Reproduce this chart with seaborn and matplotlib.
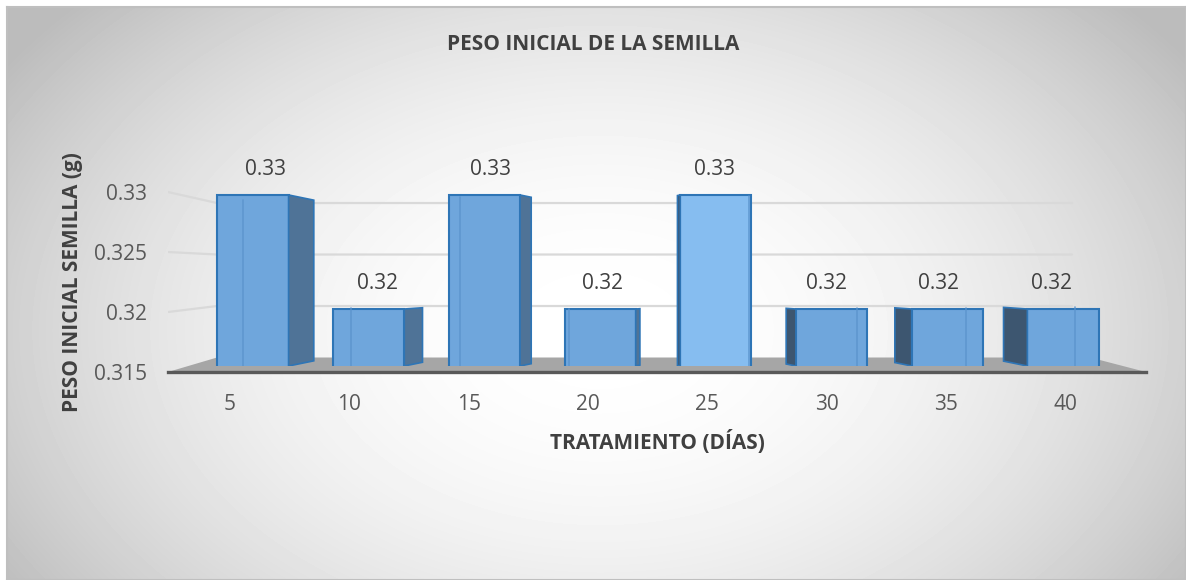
import numpy as np
import matplotlib
matplotlib.use('Agg')
import matplotlib.pyplot as plt
import seaborn as sns
from matplotlib.patches import Polygon

# datos
dias = ['5', '10', '15', '20', '25', '30', '35', '40']
peso = [0.33, 0.32, 0.33, 0.32, 0.33, 0.32, 0.32, 0.32]
y_ticks = [0.315, 0.32, 0.325, 0.33]
bar_colors = ['#6fa6dc', '#6fa6dc', '#6fa6dc', '#6fa6dc', '#86bdf0', '#6fa6dc', '#6fa6dc', '#6fa6dc']

W, H = 1186, 580


def box(x0, y0, x1, y1):
    # pixel box -> figure fraction
    return [x0 / W, 1 - y1 / H, (x1 - x0) / W, (y1 - y0) / H]


sns.set_theme(style='white')
plt.rcParams['font.family'] = ['Open Sans', 'DejaVu Sans']

fig = plt.figure(figsize=(W / 100, H / 100), dpi=100)

## background with radial gradient
bg = fig.add_axes(box(7, 7, W, H), zorder=0)
yy, xx = np.mgrid[7:H, 7:W]
r = np.hypot((xx - 600) / 620, (yy - 330) / 420)
shade = 1 - 0.2 * np.minimum(r, 1.15) ** 2
bg.imshow(shade, cmap='gray', vmin=0, vmax=1, aspect='auto', interpolation='bilinear')
bg.set_xticks([])
bg.set_yticks([])
for s in bg.spines.values():
    s.set_color('#bfbfbf')
    s.set_linewidth(1.5)

## frame axes: ticks, labels, floor and grid
ax_f = fig.add_axes(box(168, 100, 1146, 372), zorder=1)
ax_f.set_facecolor('none')
ax_f.set_xlim(-0.52, 7.678)
ax_f.set_ylim(0.315, 0.33767)
ax_f.set_xticks(range(len(dias)))
ax_f.set_xticklabels(dias)
ax_f.set_yticks(y_ticks)
ax_f.set_yticklabels([f'{v:g}' for v in y_ticks])
ax_f.tick_params(axis='y', length=0, pad=15, labelsize=15, labelcolor='#595959')
ax_f.tick_params(axis='x', length=0, pad=16, labelsize=15, labelcolor='#595959')
for side in ['top', 'right', 'left']:
    ax_f.spines[side].set_visible(False)
ax_f.spines['bottom'].set_color('#595959')
ax_f.spines['bottom'].set_linewidth(2.4)


def back(v):
    # perspective: value on the back wall, in frame units
    return 0.315 + (14.5 + (v - 0.315) * 10300) / 12000


x0, x1 = ax_f.get_xlim()
xc = -0.109   # back-left corner
xe = 7.058    # end of back wall
for v in y_ticks[1:]:
    ax_f.plot([x0, xc, xe], [v, back(v), back(v)], color='#d9d9d9', lw=1.6, zorder=1)
floor = Polygon([(x0, 0.315), (xc, back(0.315)), (7.21, back(0.315)), (x1, 0.315)],
                closed=True, fc='#a6a6a6', ec='none', zorder=2)
ax_f.add_patch(floor)

ax_f.set_xlabel('TRATAMIENTO (DÍAS)', fontsize=15, fontweight='bold', color='#404040')
ax_f.set_ylabel('PESO INICIAL SEMILLA (g)', fontsize=15, fontweight='bold', color='#404040')
ax_f.xaxis.set_label_coords(0.5, -0.215)
ax_f.yaxis.set_label_coords(-0.087, 0.331)

## bars
ax = fig.add_axes(box(160, 100, 1160, 366), zorder=2)
ax.set_facecolor('none')
sns.barplot(x=dias, y=peso, hue=dias, palette=bar_colors, legend=False, width=0.615,
            saturation=1, edgecolor='#2e75b6', linewidth=1.5, ax=ax)
ax.set_xlim(-0.804, 7.839)
ax.set_ylim(0.315, 0.33833)
ax.axis('off')

eye, k = 0.3225, 0.0024
for i, (p, v) in enumerate(zip(ax.patches, peso)):
    dpx = 7 * (3.6 - i)
    dx = dpx / 115.7
    s = 1 - k * abs(dpx)
    top2 = eye + (v - eye) * s
    bot2 = eye + (0.315 - eye) * s
    if dx > 0:
        xe_ = p.get_x() + p.get_width()
        xin = p.get_x() + dx
        col = '#4f7397'
    else:
        xe_ = p.get_x()
        xin = p.get_x() + p.get_width() + dx
        col = '#3d5670'
    # back edge seen through the bar
    ax.plot([xin, xin], [0.315, top2], color='#5a93cc', lw=1.2, alpha=0.8)
    ax.add_patch(Polygon([(xe_, 0.315), (xe_, v), (xe_ + dx, top2), (xe_ + dx, bot2)],
                         closed=True, fc=col, ec='#2e75b6', lw=1.2))
    ax.annotate(f'{v:.2f}', (p.get_x() + p.get_width() / 2 + dx / 2, v), xytext=(0, 18),
                textcoords='offset points', ha='center', va='center', fontsize=15,
                color='#404040')

fig.text(593 / W, 1 - 45 / H, 'PESO INICIAL DE LA SEMILLA', ha='center', va='center',
         fontsize=15, fontweight='bold', color='#404040')

fig.savefig('out.png', dpi=100)
